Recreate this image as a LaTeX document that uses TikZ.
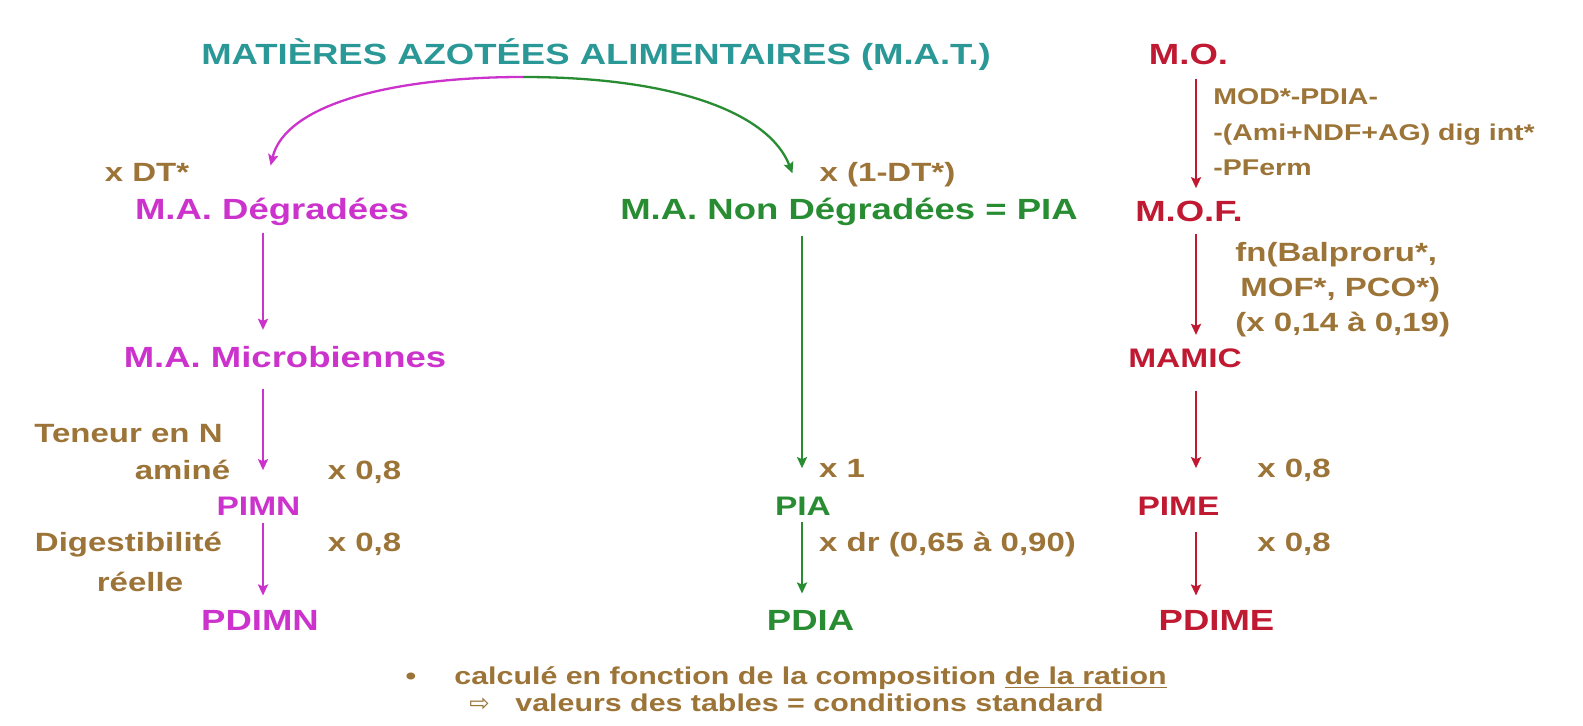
\documentclass[tikz,border=0pt]{standalone}
\usepackage{fontspec}
\setmainfont{Liberation Sans}[FakeStretch=1.25]
\newfontfamily\symfnt{DejaVu Sans}
\usepackage{tikz}
\usetikzlibrary{arrows.meta}
\definecolor{matcol}{RGB}{42,152,150}
\definecolor{degcol}{RGB}{204,51,204}
\definecolor{pdicol}{RGB}{40,140,50}
\definecolor{mocol}{RGB}{192,26,50}
\definecolor{coefcol}{RGB}{156,116,56}
\tikzstyle{matter} = [inner sep=0pt, font=\fontsize{14.6}{17}\selectfont\bfseries]
\tikzstyle{product} = [inner sep=0pt, font=\fontsize{13.4}{16}\selectfont\bfseries]
\tikzstyle{factor} = [inner sep=0pt, text=coefcol, font=\fontsize{13.2}{17.5}\selectfont\bfseries]
\tikzstyle{formula} = [inner sep=0pt, text=coefcol, align=left, font=\fontsize{11.4}{17.75}\selectfont\bfseries]
\tikzstyle{remark} = [inner sep=0pt, text=coefcol, font=\fontsize{12.15}{15}\selectfont\bfseries]
\tikzstyle{arrow} = [line width=1.15pt,->,>={Stealth[length=5.5pt,width=5pt,inset=1pt]}]

\begin{document}
\begin{tikzpicture}[x=0.5pt,y=-0.5pt]
\fill[white] (0,0) rectangle (1583,726);
\coordinate (colL) at (263,0);
\coordinate (colM) at (802,0);
\coordinate (colR) at (1196,0);
\coordinate (apex) at (523,77);
% top row
\node (mat)[matter, text=matcol, anchor=base] at (596,64.5) {MATIÈRES AZOTÉES ALIMENTAIRES (M.A.T.)};
\node (mo)[matter, text=mocol, anchor=base] at (1188.5,65) {M.O.};
\node (modf)[formula, anchor=west] at (1213,132.5) {MOD*-PDIA-\\-(Ami+NDF+AG) dig int*\\-PFerm};
\node (xdt)[factor, anchor=base] at (147,181.5) {x DT*};
\node (x1dt)[factor, anchor=base] at (887.5,181.5) {x (1-DT*)};
\node (deg)[matter, text=degcol, anchor=base] at (272,219.5) {M.A. Dégradées};
\node (nondeg)[matter, text=pdicol, anchor=base] at (849,220) {M.A. Non Dégradées = PIA};
\node (mof)[matter, text=mocol, anchor=base] at (1189,222) {M.O.F.};
\node (fnf)[factor, align=left, anchor=west] at (1235,290) {fn(Balproru*,\\\hspace{2.5pt}MOF*, PCO*)\\(x 0,14 à 0,19)};
\node (micro)[matter, text=degcol, anchor=base] at (285,368) {M.A. Microbiennes};
\node (mamic)[product, text=mocol, anchor=base] at (1185,367.5) {MAMIC};
% lower rows
\node (tene)[factor, anchor=base] at (128.5,442.5) {Teneur en N};
\node (amin)[factor, anchor=base] at (182.5,479.5) {aminé};
\node (xa)[factor, anchor=base] at (364.5,479.5) {x 0,8};
\node (x1)[factor, anchor=base] at (842,477.5) {x 1};
\node (xc)[factor, anchor=base] at (1294,477.5) {x 0,8};
\node (pimn)[product, text=degcol, anchor=base] at (258.5,515.5) {PIMN};
\node (pia)[product, text=pdicol, anchor=base] at (803,515.5) {PIA};
\node (pime)[product, text=mocol, anchor=base] at (1178.5,515.5) {PIME};
\node (dige)[factor, anchor=base] at (128.5,551.5) {Digestibilité};
\node (xb)[factor, anchor=base] at (364.5,551.5) {x 0,8};
\node (xdr)[factor, anchor=base] at (947.5,551.5) {x dr (0,65 à 0,90)};
\node (xd)[factor, anchor=base] at (1294,551.5) {x 0,8};
\node (reel)[factor, anchor=base] at (140,591) {réelle};
\node (pdimn)[matter, text=degcol, anchor=base] at (260,630.5) {PDIMN};
\node (pdia)[matter, text=pdicol, anchor=base] at (810.5,630.5) {PDIA};
\node (pdime)[matter, text=mocol, anchor=base] at (1216.5,630.5) {PDIME};
% note
\node (bul)[remark, anchor=base] at (411,684) {•};
\node (calc)[remark, anchor=base west] at (454,684) {calculé en fonction de la composition \underline{de la ration}};
\node (imp)[remark, anchor=base] at (479.5,711) {\symfnt\mdseries ⇨};
\node (tabl)[remark, anchor=base west] at (515,711) {valeurs des tables = conditions standard};
% split of M.A.T.
\draw [arrow, degcol, shorten >=16.5pt] (apex) .. controls (390,77) and (285,105) .. (deg.north -| colL);
\draw [arrow, pdicol, shorten >=13.3pt] (apex) .. controls (680,77) and (770,115) .. (nondeg.north -| colM);
% degraded column
\draw [arrow, degcol, shorten <=3.25pt, shorten >=8.3pt] (deg.south -| colL) -- (micro.north -| colL);
\draw [arrow, degcol, shorten <=10pt, shorten >=13.25pt] (micro.south -| colL) -- (pimn.north -| colL);
\draw [arrow, degcol, shorten <=3.75pt, shorten >=7.25pt] (pimn.south -| colL) -- (pdimn.north -| colL);
% undegraded column
\draw [arrow, pdicol, shorten <=4.5pt, shorten >=14.25pt] (nondeg.south -| colM) -- (pia.north -| colM);
\draw [arrow, pdicol, shorten <=3.25pt, shorten >=8.25pt] (pia.south -| colM) -- (pdia.north -| colM);
% organic matter column
\draw [arrow, mocol, shorten <=6.5pt, shorten >=6.5pt] (mo.south -| colR) -- (mof.north -| colR);
\draw [arrow, mocol, shorten <=5.5pt, shorten >=6.75pt] (mof.south -| colR) -- (mamic.north -| colR);
\draw [arrow, mocol, shorten <=11.25pt, shorten >=14.25pt] (mamic.south -| colR) -- (pime.north -| colR);
\draw [arrow, mocol, shorten <=8.25pt, shorten >=7.25pt] (pime.south -| colR) -- (pdime.north -| colR);
\end{tikzpicture}
\end{document}
